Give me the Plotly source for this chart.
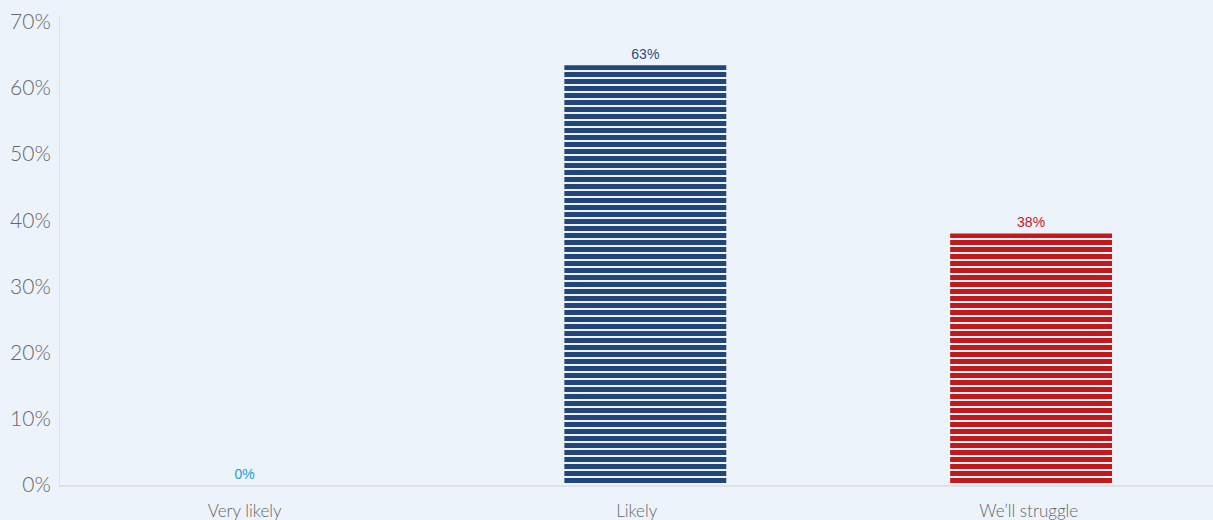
import plotly.graph_objects as go

categories = ["Very likely", "Likely", "We\u2019ll struggle"]
values = [0, 63.4, 38]
bar_colors = ["#1f9bd7", "#23467a", "#c4191b"]
label_colors = ["#1f9bd7", "#2d4a7f", "#c4191b"]
y_ticks = [0, 10, 20, 30, 40, 50, 60, 70]
y_tick_text = [f"{v}%" for v in y_ticks]

bar_w = 0.413
offsets = [-bar_w / 2, -bar_w / 2 + 0.022, -bar_w / 2 + 0.006]

fig = go.Figure()
fig.add_trace(go.Bar(
    x=categories,
    y=values,
    width=bar_w,
    offset=offsets,
    marker=dict(
        color=bar_colors,
        line=dict(width=0),
        pattern=dict(shape="-", size=7, solidity=0.72, bgcolor="white",
                     fillmode="replace"),
    ),
    text=[f"{round(v)}%" for v in values],
    textposition="outside",
    cliponaxis=False,
    outsidetextfont=dict(family="Liberation Sans, Arial", size=14, color=label_colors),
    hoverinfo="skip",
))

fig.update_layout(
    width=1213, height=520,
    margin=dict(l=60, r=0, t=15, b=35),
    paper_bgcolor="#edf3fb",
    plot_bgcolor="#edf3fb",
    showlegend=False,
    xaxis=dict(
        type="category",
        range=[-0.471, 2.470],
        showgrid=False,
        showline=True, linecolor="#dfe1e4", linewidth=2,
        ticks="outside", ticklen=10, tickcolor="rgba(0,0,0,0)",
        tickfont=dict(family="Lato Light, Lato, Roboto", size=17, color="#666666", weight=300),
        zeroline=False,
    ),
    yaxis=dict(
        range=[0, 71],
        tickvals=y_ticks, ticktext=y_tick_text,
        showgrid=False,
        showline=True, linecolor="#dfe1e4", linewidth=1,
        ticks="outside", ticklen=4, tickcolor="rgba(0,0,0,0)",
        tickfont=dict(family="Lato Light, Lato, Roboto", size=21, color="#666666", weight=300),
        zeroline=False,
    ),
)

fig.write_html("out.html")
